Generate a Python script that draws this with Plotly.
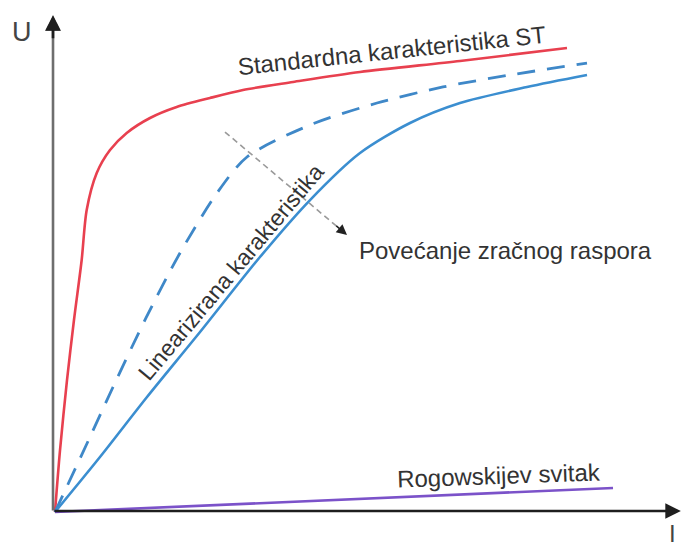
import plotly.graph_objects as go

# Standardna karakteristika ST (red)
st_i = [0, 0.88, 2.11, 3.33, 4.68, 5.56, 7.32, 9.65, 12.58, 16.67, 21.35, 27.19, 32.98, 41.75, 53.51, 71.05, 89.82]
st_u = [0, 13.19, 28.09, 40.85, 53.62, 64.26, 72.13, 77.02, 80.64, 83.83, 86.17, 88.09, 89.79, 91.49, 93.62, 95.96, 98.72]

# Increased air gap (dashed blue)
gap_i = [0, 6.14, 10.18, 15.96, 21.93, 28.42, 33.68, 44.74, 56.49, 68.07, 79.82, 93.33]
gap_u = [0, 15.96, 26.6, 41.28, 55.11, 67.87, 75.53, 82.34, 87.02, 90.43, 92.98, 95.53]

# Linearizirana karakteristika (solid blue)
lin_i = [0, 7.89, 16.14, 25.44, 35.96, 44.74, 53.51, 62.28, 71.05, 82.81, 93.33]
lin_u = [0, 11.7, 24.47, 38.3, 54.26, 66.38, 76.38, 82.77, 87.02, 90.43, 92.98]

# Rogowskijev svitak (purple)
rog_i = [0, 60.53, 97.89]
rog_u = [0, 3.19, 5.11]

# Direction arrow "Povećanje zračnog raspora"
arr_i = [29.82, 51.23]
arr_u = [80.85, 58.94]

FONT = "Liberation Sans, Arial, sans-serif"
TXT = "#333333"

fig = go.Figure()
fig.add_trace(go.Scatter(x=st_i, y=st_u, mode="lines",
                         line=dict(color="#e8404f", width=2.6, shape="spline", smoothing=0.8), hoverinfo="skip"))
fig.add_trace(go.Scatter(x=gap_i, y=gap_u, mode="lines",
                         line=dict(color="#3f88c8", width=2.8, dash="18px,12px", shape="spline", smoothing=0.8), hoverinfo="skip"))
fig.add_trace(go.Scatter(x=lin_i, y=lin_u, mode="lines",
                         line=dict(color="#3b8ed0", width=2.6, shape="spline", smoothing=0.8), hoverinfo="skip"))
fig.add_trace(go.Scatter(x=rog_i, y=rog_u, mode="lines", line=dict(color="#7b52c9", width=2.6), hoverinfo="skip"))
# dashed gray arrow shaft
fig.add_trace(go.Scatter(x=[arr_i[0], arr_i[0] + (arr_i[1] - arr_i[0]) * 0.93],
                         y=[arr_u[0], arr_u[0] + (arr_u[1] - arr_u[0]) * 0.93],
                         mode="lines", line=dict(color="#9a9a9a", width=1.6, dash="6px,4px"), hoverinfo="skip"))

ann = []
# axes with arrows
ann.append(dict(x=-0.35, y=105.7, ax=-0.35, ay=0, xref="x", yref="y", axref="x", ayref="y",
                showarrow=True, arrowhead=2, arrowsize=1.2, arrowwidth=2.6, arrowcolor="#6e6e6e", text=""))
ann.append(dict(x=-0.35, y=105.7, ax=-0.35, ay=100.5, xref="x", yref="y", axref="x", ayref="y",
                showarrow=True, arrowhead=2, arrowsize=1.2, arrowwidth=2.6, arrowcolor="#1e1e1e", text=""))
ann.append(dict(x=109.8, y=0.2, ax=-0.35, ay=0.2, xref="x", yref="y", axref="x", ayref="y",
                showarrow=True, arrowhead=2, arrowsize=1.2, arrowwidth=2.6, arrowcolor="#1e1e1e", text=""))
# arrowhead of dashed direction arrow
ann.append(dict(x=arr_i[1], y=arr_u[1], ax=arr_i[0] + (arr_i[1] - arr_i[0]) * 0.9,
                ay=arr_u[0] + (arr_u[1] - arr_u[0]) * 0.9, xref="x", yref="y", axref="x", ayref="y",
                showarrow=True, arrowhead=2, arrowsize=1.3, arrowwidth=1.6, arrowcolor="#222222", text=""))
# labels
ann.append(dict(x=-5.79, y=102.1, xref="x", yref="y", text="U", showarrow=False,
                font=dict(family=FONT, size=27, color="#444444")))
ann.append(dict(x=108.25, y=-4.5, xref="x", yref="y", text="I", showarrow=False, borderpad=0,
                font=dict(family=FONT, size=24, color="#444444")))
ann.append(dict(x=59.12, y=98.3, xref="x", yref="y", text="Standardna karakteristika ST", textangle=-6,
                showarrow=False, font=dict(family=FONT, size=24, color=TXT)))
ann.append(dict(x=30.88, y=51.06, xref="x", yref="y", text="Linearizirana karakteristika", textangle=-50,
                showarrow=False, font=dict(family=FONT, size=23, color=TXT)))
ann.append(dict(x=78.95, y=55.74, xref="x", yref="y", text="Povećanje zračnog raspora",
                showarrow=False, font=dict(family=FONT, size=24, color=TXT)))
ann.append(dict(x=77.89, y=7.87, xref="x", yref="y", text="Rogowskijev svitak", textangle=-2,
                showarrow=False, font=dict(family=FONT, size=24, color=TXT)))

fig.update_layout(
    width=681, height=551,
    margin=dict(l=0, r=0, t=0, b=0),
    paper_bgcolor="white", plot_bgcolor="white",
    showlegend=False,
    xaxis=dict(range=[-9.649, 109.82], visible=False, fixedrange=True),
    yaxis=dict(range=[-8.298, 108.94], visible=False, fixedrange=True),
    annotations=ann,
)
fig.write_html("out.html", config={"displayModeBar": False},
               post_script="document.body.style.margin='0px';document.body.style.overflow='hidden';")
